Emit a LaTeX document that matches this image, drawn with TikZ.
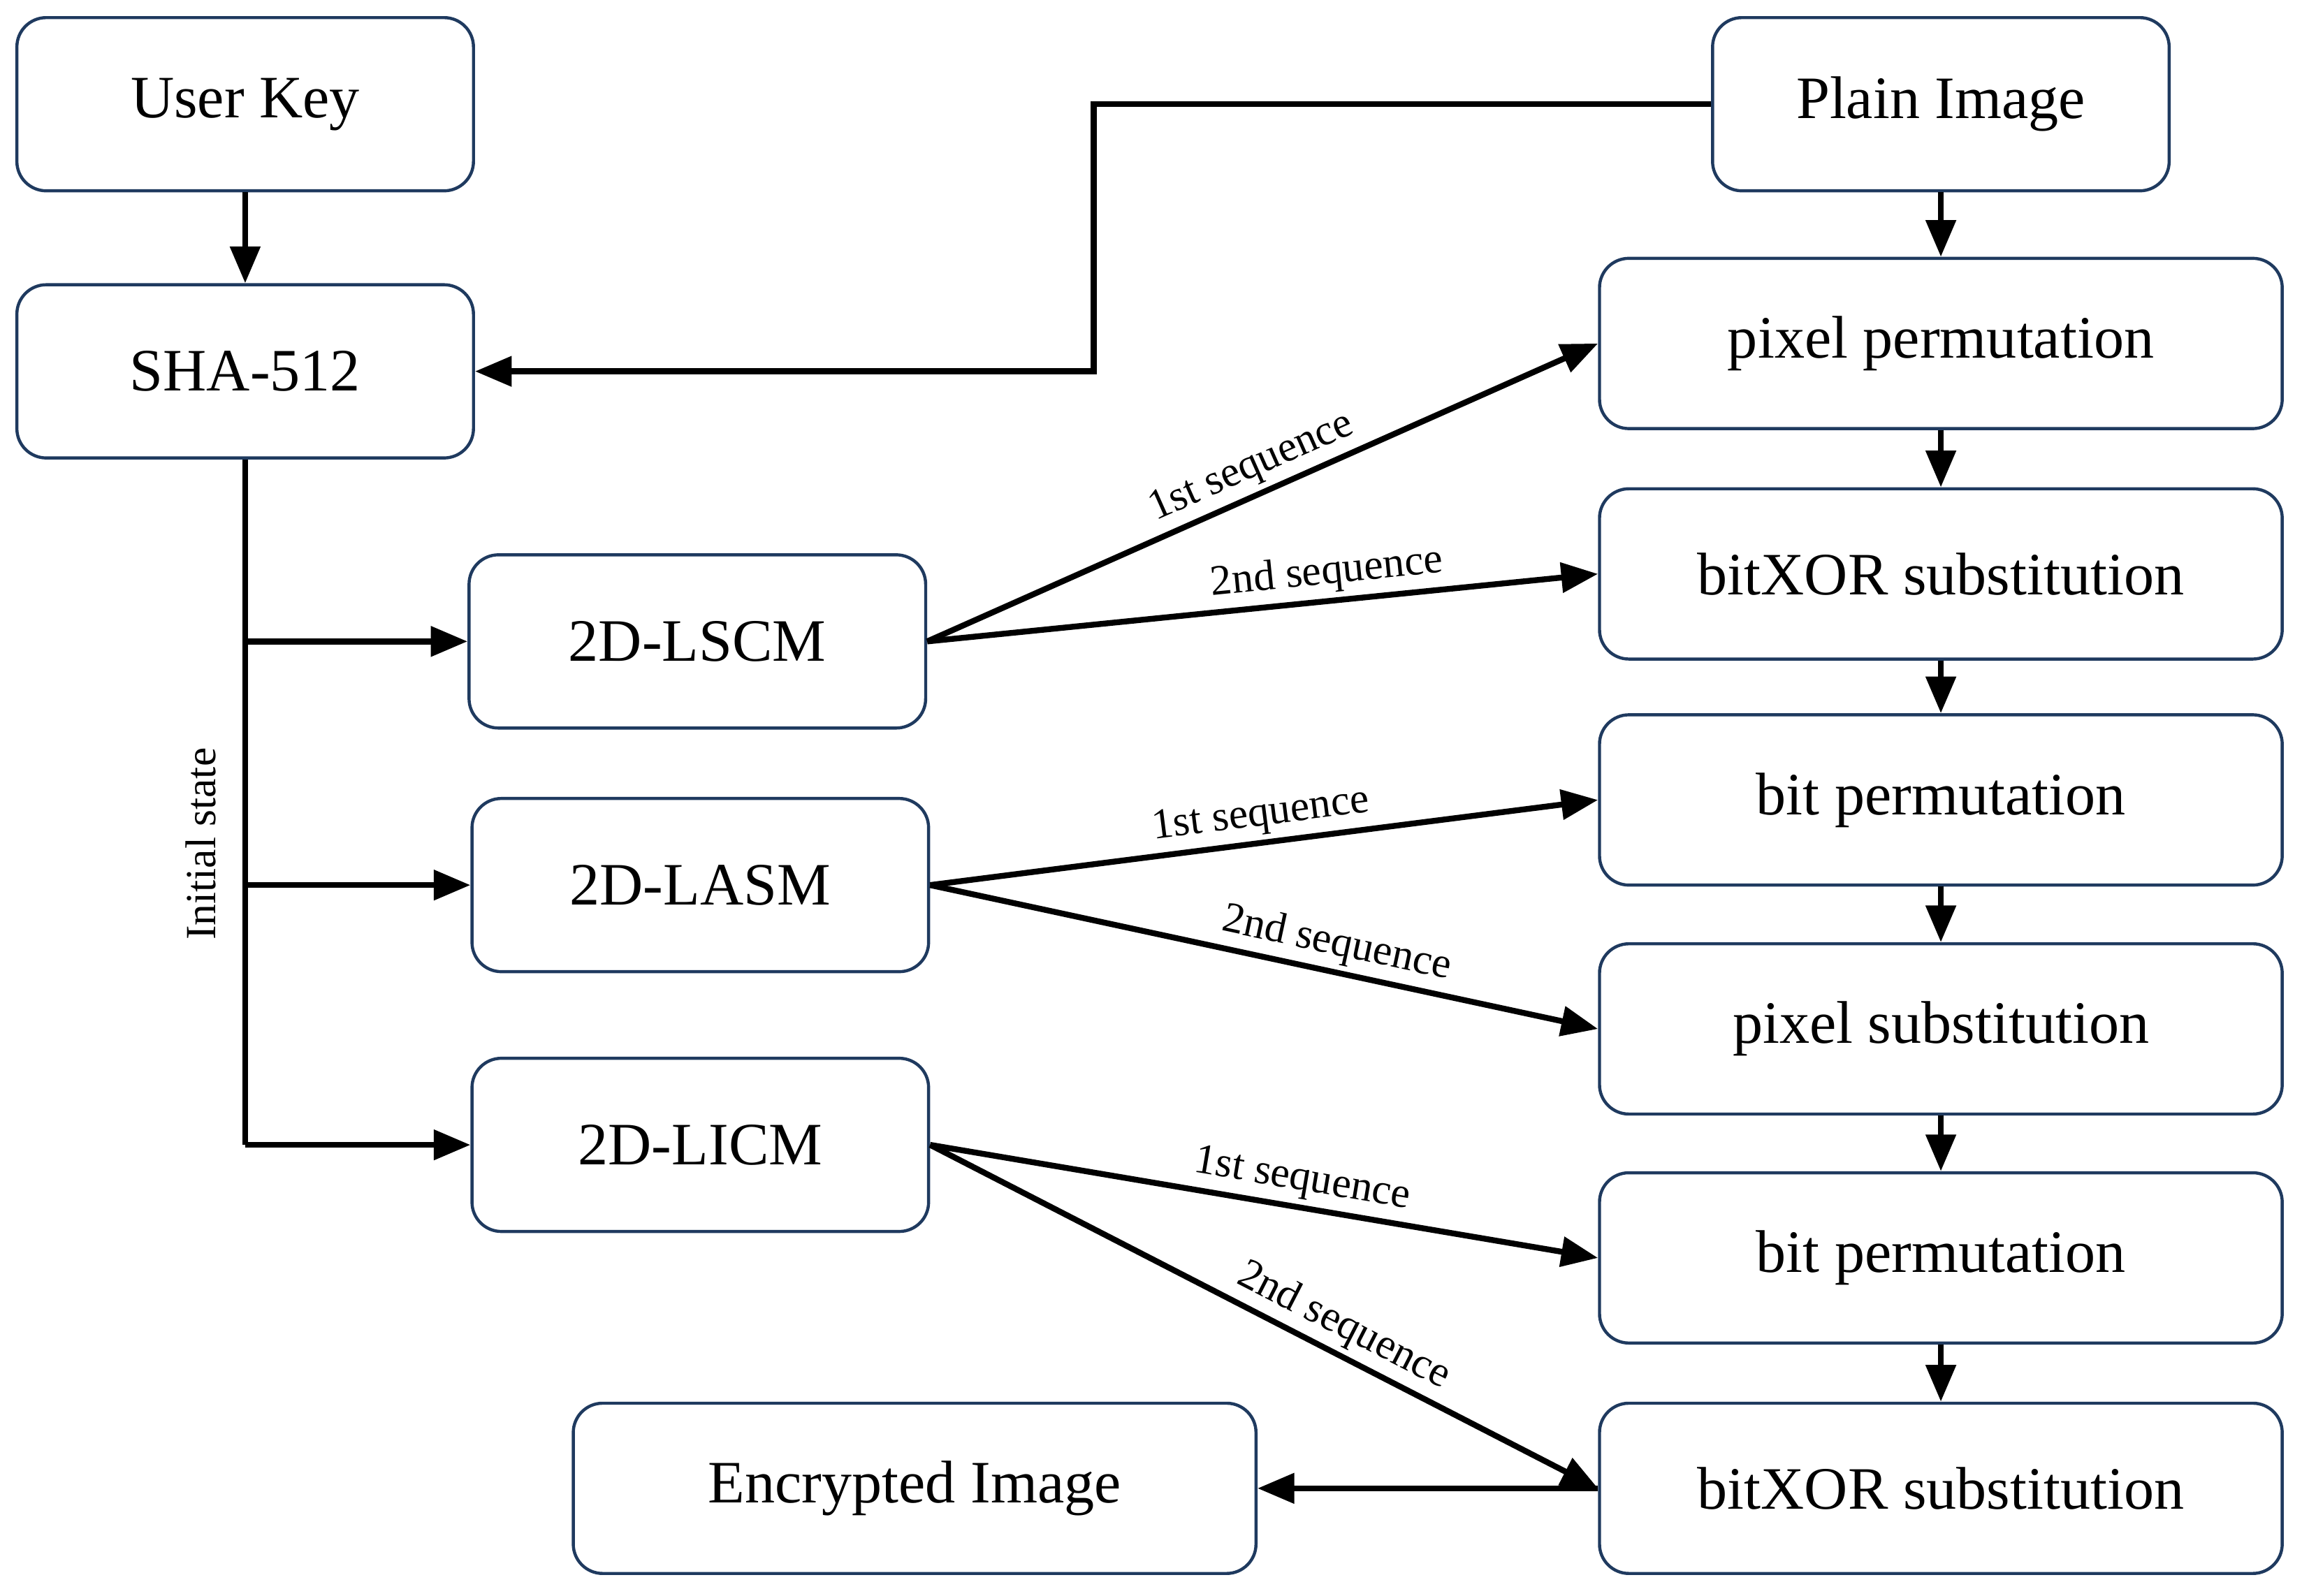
\documentclass[tikz,border=0pt]{standalone}
\usepackage{fontspec}
\setmainfont{Liberation Serif}
\usetikzlibrary{arrows.meta}
\definecolor{bd}{HTML}{1F3A5F}
\begin{document}
\begin{tikzpicture}[x=0.03cm,y=-0.03cm,
 box/.style={draw=bd,line width=1.8pt,rounded corners=0.6cm,fill=white,font=\fontsize{35}{40}\selectfont,inner sep=0pt},
 sm/.style={box,minimum width=9.33cm,minimum height=3.54cm},
 wd/.style={box,minimum width=13.95cm,minimum height=3.48cm},
 ar/.style={line width=3.4pt,-{Triangle[length=0.75cm,width=0.6cm]}},
 ln/.style={line width=3.4pt},
 lab/.style={font=\fontsize{25}{30}\selectfont,sloped,above,inner sep=3pt}]
\useasboundingbox (0,0) rectangle (1568,1087);
\node[sm] (uk) at (167,71) {User Key};
\node[sm] (sha) at (167,253) {SHA-512};
\node[sm] (pi) at (1322,71) {Plain Image};
\node[wd] (b1) at (1322,234) {pixel permutation};
\node[wd] (b2) at (1322,391) {bitXOR substitution};
\node[wd] (b3) at (1322,545) {bit permutation};
\node[wd] (b4) at (1322,701) {pixel substitution};
\node[wd] (b5) at (1322,857) {bit permutation};
\node[wd] (b6) at (1322,1014) {bitXOR substitution};
\node[sm] (m1) at (475,437) {2D-LSCM};
\node[sm] (m2) at (477,603) {2D-LASM};
\node[sm] (m3) at (477,780) {2D-LICM};
\node[wd] (enc) at (623,1014) {Encrypted Image};
\coordinate (t1) at (167,437);
\coordinate (t2) at (167,603);
\coordinate (t3) at (167,780);
\coordinate (pk) at (745,71);
\coordinate (pk2) at (745,253);
\draw[ar] (uk) -- (sha);
\draw[ar] (pi.west) -- (pk) -- (pk2) -- (sha.east);
\draw[ln] (sha.south) -- (t3);
\draw[ar] (t3) -- (m3.west);
\draw[ar] (t1) -- (m1.west);
\draw[ar] (t2) -- (m2.west);
\node[font=\fontsize{25}{30}\selectfont,rotate=90] (is) at (137,575) {Initial state};
\draw[ar] (pi) -- (b1);
\draw[ar] (b1) -- (b2);
\draw[ar] (b2) -- (b3);
\draw[ar] (b3) -- (b4);
\draw[ar] (b4) -- (b5);
\draw[ar] (b5) -- (b6);
\draw[ar] (m1.east) -- node[lab,pos=0.5]{1st sequence} (b1.west);
\draw[ar] (m1.east) -- node[lab,pos=0.6]{2nd sequence} (b2.west);
\draw[ar] (m2.east) -- node[lab,pos=0.5]{1st sequence} (b3.west);
\draw[ar] (m2.east) -- node[lab,pos=0.6]{2nd sequence} (b4.west);
\draw[ar] (m3.east) -- node[lab,pos=0.55]{1st sequence} (b5.west);
\draw[ar] (m3.east) -- node[lab,pos=0.6]{2nd sequence} (b6.west);
\draw[ar] (b6.west) -- (enc.east);
\end{tikzpicture}
\end{document}
